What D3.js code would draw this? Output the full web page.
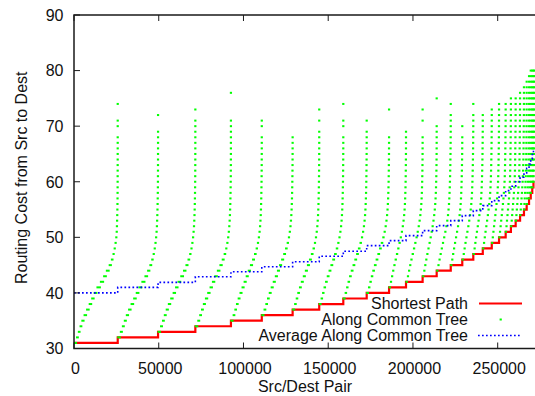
<!DOCTYPE html>
<html><head><meta charset="utf-8">
<script src="https://cdn.jsdelivr.net/npm/d3@7"></script>
<style>
html,body{margin:0;padding:0;background:#fff;}
svg{display:block;font-family:"Liberation Sans",Arial,Helvetica,sans-serif;}
</style></head><body>
<svg id="chart" width="535" height="396"></svg>
<script>
// Shortest-path cost of each group of src/dest pairs (pairs sorted by it)
const shortestCost = [31,32,33,34,35,36,37,38,39,40,41,42,43,44,45,46,47,48,49,50,51,52,53,54,55,56,57,58,59,60];
// First pair index of each shortest-cost group
const groupStart = [0,25800,49600,71600,92600,110800,129000,144700,158900,172700,185900,195900,205700,214000,222300,229100,235600,241200,246500,250800,254700,257800,260600,263200,265500,267100,268500,269500,270400,271100];
const lastPair = 271700;
// Mean cost along the common tree inside each group
const avgTreeCost = [40.0,41.0,41.9,42.9,43.8,44.7,45.6,46.6,47.5,48.5,49.4,50.3,51.2,52.1,53.0,53.9,54.8,55.7,56.6,57.5,58.4,59.2,60.0,60.8,61.6,62.4,63.2,64.1,64.9,65.7];
// Share (%) of each group's pairs at cost s, s+1, s+2 ... along the common tree
const treeCostShare = [
 [5.7,4.1,3.9,4.1,5.0,5.7,5.9,5.7,5.5,6.4,7.8,7.3,6.2,6.4,5.0,3.7,2.7,2.3,1.8,1.4,0.5,0.4,0.35,0.3,0.25,0.2,0.12,0.08,0.06,0.04,0.03,0.03,0.02,0.02,0.02,0.01,0.01,0.01,0,0.01,0.01,0,0,0.01],
 [6.5,5.0,4.8,5.0,5.6,6.2,6.4,6.4,6.6,7.4,7.6,6.6,5.6,4.6,3.6,2.8,2.2,1.7,1.3,1.0,0.6,0.5,0.4,0.35,0.3,0.25,0.2,0.15,0.1,0.08,0.05,0.04,0.03,0.02,0.02,0.01,0.01,0.01,0,0,0.01],
 [6.6,5.2,4.9,5.1,5.7,6.3,6.5,6.5,6.6,7.3,7.4,6.5,5.5,4.5,3.5,2.7,2.1,1.6,1.2,0.9,0.6,0.5,0.4,0.35,0.3,0.25,0.2,0.15,0.1,0.08,0.05,0.04,0.03,0.02,0.02,0.01,0.01,0.01,0.01,0,0.01],
 [6.8,5.4,5.0,5.2,5.8,6.4,6.6,6.6,6.6,7.2,7.2,6.4,5.4,4.4,3.4,2.6,2.0,1.5,1.1,0.9,0.6,0.5,0.4,0.35,0.3,0.25,0.2,0.15,0.1,0.08,0.05,0.04,0.03,0.02,0.02,0.01,0.01,0.01,0,0,0,0,0.01],
 [7.0,5.6,5.2,5.4,6.0,6.5,6.7,6.7,6.6,7.0,6.9,6.2,5.3,4.3,3.3,2.5,1.9,1.4,1.0,0.8,0.55,0.45,0.4,0.35,0.3,0.25,0.2,0.15,0.1,0.08,0.05,0.03,0.02,0.01,0,0.01,0.01],
 [7.2,5.8,5.4,5.6,6.2,6.6,6.8,6.8,6.6,6.9,6.6,6.0,5.2,4.2,3.2,2.4,1.8,1.3,1.0,0.8,0.55,0.45,0.4,0.35,0.3,0.25,0.2,0.15,0.1,0.08,0.04,0.02,0.01],
 [7.4,5.9,5.8,6.2,6.8,7.4,7.6,7.7,7.6,7.0,6.2,5.2,4.2,3.2,2.4,1.8,1.3,1.0,0.8,0.6,0.5,0.4,0.35,0.3,0.25,0.2,0.15,0.12,0.1,0.06,0.03,0.01,0.01,0,0.01,0,0.01],
 [7.6,6.1,5.9,6.3,6.9,7.4,7.6,7.6,7.5,6.9,6.1,5.1,4.1,3.2,2.4,1.8,1.3,1.0,0.8,0.6,0.5,0.4,0.35,0.3,0.25,0.2,0.15,0.12,0.08,0.04,0.01,0,0.01,0.01,0,0,0.01],
 [7.7,6.2,6.0,6.4,7.0,7.5,7.6,7.5,7.4,6.8,6.0,5.0,4.0,3.1,2.3,1.7,1.2,1.0,0.8,0.6,0.5,0.4,0.35,0.3,0.25,0.2,0.15,0.1,0.05,0.02,0.01,0,0.01],
 [7.8,6.3,6.1,6.5,7.1,7.5,7.6,7.5,7.3,6.7,5.9,4.9,3.9,3.0,2.3,1.7,1.2,1.0,0.8,0.6,0.5,0.4,0.35,0.3,0.25,0.2,0.12,0.06,0.02,0,0,0,0,0.01],
 [8.0,6.5,6.3,6.7,7.2,7.6,7.6,7.4,7.2,6.6,5.8,4.8,3.8,2.9,2.2,1.6,1.1,1.0,0.8,0.6,0.5,0.4,0.35,0.3,0.2,0.12,0.06,0.02,0.01],
 [8.2,6.7,6.5,6.9,7.4,7.7,7.6,7.3,7.0,6.4,5.6,4.6,3.7,2.8,2.1,1.5,1.1,1.0,0.8,0.6,0.5,0.4,0.3,0.2,0.12,0.06,0.02,0,0,0.01,0,0.01],
 [8.4,6.9,6.7,7.1,7.6,7.8,7.6,7.2,6.8,6.2,5.4,4.4,3.6,2.7,2.0,1.5,1.1,1.0,0.8,0.6,0.5,0.4,0.3,0.2,0.12,0.06,0.02,0.01,0,0,0,0,0.01],
 [8.8,7.3,7.3,7.7,8.1,8.3,8.1,7.6,6.7,5.5,4.3,3.3,2.5,1.9,1.5,1.3,1.1,0.9,0.8,0.7,0.6,0.5,0.45,0.4,0.3,0.2,0.1,0.05,0.02,0,0.01],
 [9.0,7.4,7.4,7.8,8.2,8.4,8.2,7.6,6.6,5.4,4.2,3.2,2.4,1.8,1.5,1.3,1.1,0.9,0.8,0.7,0.6,0.4,0.2,0.1,0,0.02],
 [9.2,7.5,7.5,7.9,8.3,8.4,8.1,7.5,6.5,5.3,4.1,3.1,2.3,1.8,1.5,1.3,1.1,0.9,0.8,0.7,0.6,0.5,0.4,0.3,0.2,0.1,0.03,0,0.02],
 [9.4,7.7,7.6,8.0,8.3,8.4,8.0,7.4,6.4,5.2,4.0,3.0,2.3,1.7,1.5,1.3,1.1,0.9,0.8,0.7,0.6,0.5,0.35,0.2,0.1,0.03],
 [9.6,7.9,7.8,8.1,8.4,8.4,7.9,7.3,6.3,5.1,3.9,2.9,2.2,1.7,1.5,1.3,1.1,0.9,0.8,0.7,0.6,0.5,0.35,0.2,0.1,0.03],
 [9.8,8.1,8.0,8.3,8.5,8.4,7.8,7.1,6.1,4.9,3.8,2.8,2.1,1.6,1.5,1.3,1.1,0.9,0.8,0.7,0.6,0.5,0.35,0.2,0.1,0.03],
 [10.0,8.3,8.2,8.5,8.6,8.4,7.7,6.9,5.9,4.7,3.6,2.7,2.0,1.6,1.5,1.3,1.1,0.9,0.8,0.7,0.6,0.45,0.3,0.15,0.05],
 [10.6,8.8,8.8,9.1,9.2,8.7,7.7,6.3,4.9,3.7,2.7,1.9,1.6,1.5,1.4,1.3,1.2,1.1,1.0,0.9,0.7,0.5,0.3,0.15,0.05],
 [11.0,9.0,9.0,9.2,9.2,8.6,7.6,6.2,4.8,3.6,2.6,1.9,1.6,1.5,1.4,1.3,1.2,1.1,1.0,0.8,0.6,0.4,0.2,0.05],
 [11.4,9.3,9.2,9.3,9.1,8.5,7.4,6.0,4.7,3.5,2.5,1.8,1.6,1.5,1.4,1.3,1.2,1.1,1.0,0.8,0.6,0.4,0.2,0.05],
 [11.8,9.6,9.4,9.4,9.1,8.4,7.3,5.9,4.6,3.4,2.4,1.8,1.6,1.5,1.4,1.3,1.2,1.1,1.0,0.8,0.6,0.4,0.2,0.05],
 [12.2,9.9,9.6,9.5,9.0,8.2,7.1,5.7,4.4,3.3,2.3,1.7,1.6,1.5,1.4,1.3,1.2,1.1,1.0,0.8,0.6,0.4,0.2,0.05],
 [12.6,10.8,10.9,10.6,9.7,8.3,6.7,5.1,3.7,2.7,2.0,1.8,1.6,1.5,1.4,1.3,1.2,1.1,1.0,0.9,0.7,0.5,0.3,0.1],
 [13.0,11.0,11.0,10.6,9.6,8.2,6.6,5.0,3.6,2.6,2.0,1.8,1.6,1.5,1.4,1.3,1.2,1.1,1.0,0.9,0.7,0.5,0.3,0.1],
 [13.4,11.2,11.1,10.6,9.5,8.1,6.5,4.9,3.5,2.5,2.0,1.8,1.6,1.5,1.4,1.3,1.2,1.1,1.0,0.8,0.6,0.4,0.2],
 [13.8,11.4,11.2,10.6,9.4,8.0,6.4,4.8,3.4,2.4,2.0,1.8,1.6,1.5,1.4,1.3,1.2,1.1,0.9,0.7,0.5,0.3],
 [14.2,11.6,11.3,10.6,9.3,7.9,6.3,4.7,3.3,2.3,2.0,1.8,1.6,1.5,1.4,1.3,1.2,1.0,0.8,0.6,0.4]
];
const xTicks = [0,50000,100000,150000,200000,250000];
const yTicks = [30,40,50,60,70,80,90];
const legendLabels = ["Shortest Path","Along Common Tree","Average Along Common Tree"];
const xTitle = "Src/Dest Pair";
const yTitle = "Routing Cost from Src to Dest";

const svg = d3.select("#chart");
const plot = {left: 74, right: 536, top: 15, bottom: 348.5};
const x = d3.scaleLinear().domain([0, 272600]).range([plot.left, plot.right]);
const y = d3.scaleLinear().domain([30, 90]).range([plot.bottom, plot.top]);

svg.append("rect").attr("width", 535).attr("height", 396).attr("fill", "#fff");
svg.append("clipPath").attr("id", "plotClip").append("rect")
  .attr("x", plot.left).attr("y", plot.top)
  .attr("width", plot.right - plot.left).attr("height", plot.bottom - plot.top);
const area = svg.append("g").attr("clip-path", "url(#plotClip)");

// group end = start of the next group
const groupEnd = groupStart.slice(1).concat([lastPair]);

// shortest path: step line
const stepPts = groupStart.map((s, i) => [s, shortestCost[i]]).concat([[lastPair, shortestCost[shortestCost.length - 1]]]);
const stepLine = d3.line().x(d => x(d[0])).y(d => y(d[1])).curve(d3.curveStepAfter);
area.append("path").attr("d", stepLine(stepPts))
  .attr("fill", "none").attr("stroke", "#ff0000").attr("stroke-width", 2.2);

// along common tree: sorted pairs give one dash per cost level per group
const dashes = [];
treeCostShare.forEach((shares, gi) => {
  const total = d3.sum(shares);
  let cum = 0;
  shares.forEach((sh, k) => {
    if (sh > 0) {
      dashes.push({
        x0: groupStart[gi] + (cum / total) * (groupEnd[gi] - groupStart[gi]),
        x1: groupStart[gi] + ((cum + sh) / total) * (groupEnd[gi] - groupStart[gi]),
        cost: shortestCost[gi] + k
      });
    }
    cum += sh;
  });
});
const dashW = d => Math.max(x(d.x1) - x(d.x0) + 1.0, 2.2);
area.append("g").selectAll("rect").data(dashes).join("rect")
  .attr("x", d => (x(d.x0) + x(d.x1)) / 2 - dashW(d) / 2)
  .attr("width", dashW)
  .attr("y", d => y(d.cost) - 1).attr("height", 2)
  .attr("fill", "#00ff00");

// average along common tree: dotted step line
const avgPts = groupStart.map((s, i) => [s, avgTreeCost[i]]).concat([[lastPair, avgTreeCost[avgTreeCost.length - 1]]]);
area.append("path").attr("d", stepLine(avgPts))
  .attr("fill", "none").attr("stroke", "#0000ff").attr("stroke-width", 1.6)
  .attr("stroke-dasharray", "1.7,2.3");

// border and ticks
const ink = "#1a1a1a";
svg.append("rect").attr("x", plot.left).attr("y", plot.top)
  .attr("width", plot.right - plot.left).attr("height", plot.bottom - plot.top)
  .attr("fill", "none").attr("stroke", ink).attr("stroke-width", 1.5);
const tickLen = 6;
svg.append("g").selectAll("line").data(yTicks).join("line")
  .attr("x1", plot.left).attr("x2", plot.left + tickLen)
  .attr("y1", d => y(d)).attr("y2", d => y(d)).attr("stroke", ink);
svg.append("g").selectAll("line").data(xTicks).join("line")
  .attr("x1", d => x(d)).attr("x2", d => x(d))
  .attr("y1", plot.bottom).attr("y2", plot.bottom - tickLen).attr("stroke", ink);
svg.append("g").selectAll("line").data(xTicks).join("line")
  .attr("x1", d => x(d)).attr("x2", d => x(d))
  .attr("y1", plot.top).attr("y2", plot.top + tickLen).attr("stroke", ink);

const fs = 16;
svg.append("g").selectAll("text").data(yTicks).join("text")
  .attr("x", 63.5).attr("y", d => y(d)).attr("dy", "0.36em")
  .attr("text-anchor", "end").attr("font-size", fs).attr("fill", "#111")
  .text(d => d);
svg.append("g").selectAll("text").data(xTicks).join("text")
  .attr("x", d => x(d) + 1.5).attr("y", 374)
  .attr("text-anchor", "middle").attr("font-size", fs).attr("fill", "#111")
  .text(d => d);
svg.append("text").attr("x", (plot.left + plot.right) / 2).attr("y", 392)
  .attr("text-anchor", "middle").attr("font-size", fs).attr("fill", "#111").text(xTitle);
svg.append("text").attr("transform", "translate(26.5," + ((plot.top + plot.bottom) / 2 - 4) + ") rotate(-90)")
  .attr("text-anchor", "middle").attr("font-size", fs).attr("fill", "#111").text(yTitle);

// key
const key = svg.append("g");
const rowY = [303.5, 319.5, 335.5];
key.selectAll("text").data(legendLabels).join("text")
  .attr("x", 468).attr("y", (d, i) => rowY[i]).attr("dy", "0.36em")
  .attr("text-anchor", "end").attr("font-size", fs).attr("fill", "#111").text(d => d);
key.append("line").attr("x1", 479).attr("x2", 522).attr("y1", rowY[0]).attr("y2", rowY[0])
  .attr("stroke", "#ff0000").attr("stroke-width", 2.2);
key.append("rect").attr("x", 499.6).attr("y", rowY[1] - 1).attr("width", 2.2).attr("height", 2).attr("fill", "#00ff00");
key.append("line").attr("x1", 478).attr("x2", 521).attr("y1", rowY[2]).attr("y2", rowY[2])
  .attr("stroke", "#0000ff").attr("stroke-width", 1.6).attr("stroke-dasharray", "1.7,2.3");
</script>
</body></html>
